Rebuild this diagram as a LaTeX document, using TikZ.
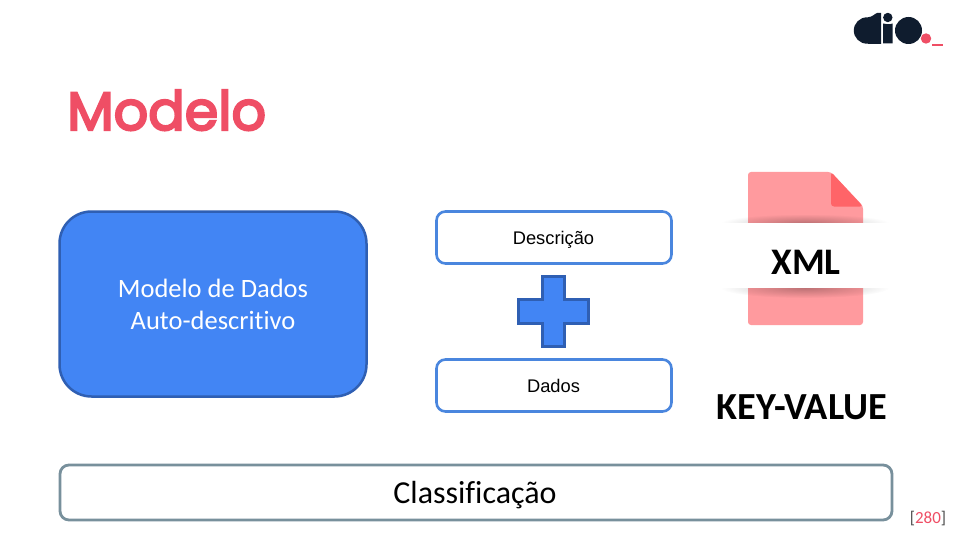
\documentclass[tikz,border=0pt]{standalone}
\usepackage{fontspec}
\setmainfont[Ligatures=NoCommon]{Carlito}
\newfontfamily\arialf{Liberation Sans}
\newfontfamily\popf[FakeBold=4]{Poppins}
\usetikzlibrary{fadings}
\definecolor{blueF}{HTML}{4285F4}
\definecolor{blueD}{HTML}{2F5FB3}
\definecolor{blueL}{HTML}{4A86DE}
\definecolor{slateC}{HTML}{78909C}
\definecolor{redC}{HTML}{EF4E65}
\definecolor{pinkC}{HTML}{FF9A9E}
\definecolor{pinkD}{HTML}{FF6468}
\definecolor{inkC}{HTML}{0F1C2E}
\tikzfading[name=softglow,inner color=transparent!0,outer color=transparent!100]
\tikzset{
  whitebox/.style={draw=blueL,line width=2.6pt,rounded corners=9pt,fill=white,minimum width=235pt,minimum height=52pt,inner sep=0pt},
  boxlabel/.style={inner sep=0pt,font=\arialf\fontsize{18.3}{22}\selectfont,text=black},
  bandshadow/.style={fill=black,opacity=.26,path fading=softglow},
}
\begin{document}
\begin{tikzpicture}[x=1pt,y=-1pt]
\useasboundingbox (0,0) rectangle (960,540);
\fill[white] (0,0) rectangle (960,540);
% logo
\fill[inkC] (867,30.5) circle (13.2);
\fill[inkC] (868,17.3) .. controls (872.5,17) and (875,13.5) .. (877,13) -- (881,13) -- (881,43.8) -- (868,43.8) -- cycle;
\fill[inkC] (887.8,17.5) circle (4.7);
\fill[inkC] (883,23.5) .. controls (886,24.5) and (890,24.5) .. (892.5,23.5) -- (892.5,43.5) -- (883,43.5) -- cycle;
\fill[inkC] (908.5,30.5) circle (13.5);
\fill[redC] (926,38.5) circle (5.2);
\fill[redC] (932,44.3) rectangle (943,46.3);
% title
\node[anchor=base west,inner sep=0pt,text=redC,font=\popf\fontsize{54}{60}\selectfont] (title) at (67,130) {Modelo};
% main box
\node[draw=blueD,line width=2.5pt,fill=blueF,rounded corners=32pt,minimum width=307pt,minimum height=185pt,inner sep=0pt,text=white,align=center,font=\fontsize{26.5}{32}\selectfont] (model) at (213,304) {Modelo de Dados\\Auto-descritivo};
% right boxes
\node[whitebox] (desc) at (554,237.5) {};
\node[boxlabel] (desclabel) at (553.5,239.5) {Descrição};
\node[whitebox] (dados) at (554,385.5) {};
\node[boxlabel] (dadoslabel) at (553.5,385.5) {Dados};
% plus
\path[draw=blueD,line width=3pt,fill=blueF] (542,276.5) -- (564.5,276.5) -- (564.5,299.5) -- (588.5,299.5) -- (588.5,323) -- (564.5,323) -- (564.5,346.5) -- (542,346.5) -- (542,323) -- (518.2,323) -- (518.2,299.5) -- (542,299.5) -- cycle;
% file icon
\path[fill=pinkC,rounded corners=3pt] (748,172) -- (831,172) -- (863,206) -- (863,325) -- (748,325) -- cycle;
\path[fill=pinkD,rounded corners=3pt] (831,172) -- (863,206.5) -- (831,206.5) -- cycle;
% shadows and band
\fill[bandshadow] (805,223) ellipse (84 and 9);
\fill[bandshadow] (805,288) ellipse (84 and 10);
\fill[white] (718,223) rectangle (892,288);
\node[font=\bfseries\fontsize{37.5}{44}\selectfont,text=black,inner sep=0pt] (xml) at (806,262) {XML};
\node[font=\bfseries\fontsize{38.3}{44}\selectfont,text=black,inner sep=0pt] (kv) at (802,407) {KEY-VALUE};
% bottom bar
\node[draw=slateC,line width=2.8pt,fill=white,rounded corners=9pt,minimum width=832pt,minimum height=55pt,inner sep=0pt,text=black] (classif) at (476,492.5) {};
\node[inner sep=0pt,font=\fontsize{32}{38}\selectfont,text=black] (classiftext) at (475,495) {Classificação};
% page ref
\node[anchor=base,inner sep=0pt,font=\fontsize{17}{20}\selectfont,text=black!70] (ref) at (928,523.5) {[\textcolor{redC}{280}]};
\end{tikzpicture}
\end{document}
